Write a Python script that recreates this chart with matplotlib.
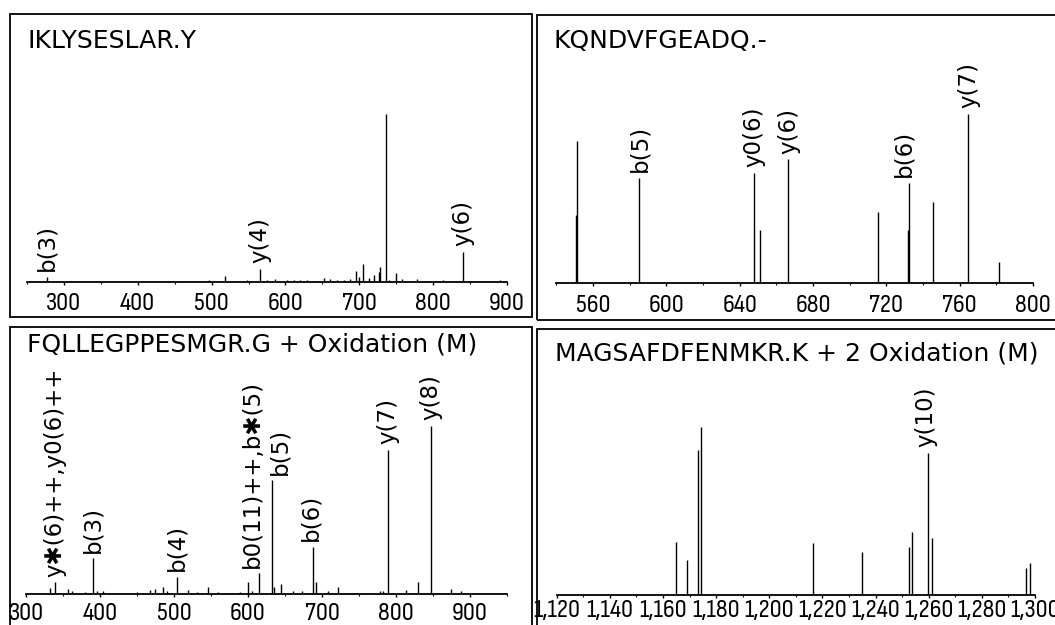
import matplotlib
matplotlib.use("Agg")
import matplotlib.pyplot as plt
from matplotlib.patches import Rectangle
from matplotlib.ticker import MultipleLocator, FuncFormatter
from matplotlib import font_manager
from matplotlib.font_manager import FontProperties
from matplotlib.textpath import TextPath

# ---------------- data ----------------
# Panel 1 (top-left)
p1_title = "IKLYSESLAR.Y"
p1_mz = [277.0, 496.4, 517.6, 548.2, 565.3, 575.2, 586.5, 602.3, 611.3, 620.3,
         629.3, 640.5, 651.8, 660.8, 669.8, 678.8, 687.8, 695.9, 699.1, 705.0,
         712.6, 719.4, 726.1, 728.4, 736.5, 739.6, 750.0, 757.7, 777.9, 789.2,
         800.4, 813.9, 840.1, 850.0, 890.5]
p1_int = [3.0, 1.0, 3.4, 1.0, 7.9, 1.0, 1.6, 1.2, 1.0, 1.0,
          1.2, 0.8, 2.4, 1.6, 1.0, 1.0, 1.6, 6.5, 3.0, 10.5,
          2.4, 4.0, 6.0, 8.9, 100.0, 1.0, 5.4, 1.6, 1.6, 0.8,
          0.8, 1.0, 17.9, 0.8, 1.0]
p1_lab_mz = [277.0, 565.3, 840.1]
p1_lab_txt = ["b(3)", "y(4)", "y(6)"]

# Panel 2 (top-right)
p2_title = "KQNDVFGEADQ.-"
p2_mz = [550.6, 551.1, 585.3, 648.0, 651.3, 666.6, 715.3, 731.6, 732.1, 745.2, 764.8, 781.6]
p2_int = [40.0, 84.0, 62.0, 65.0, 31.0, 73.0, 42.0, 31.0, 59.0, 48.0, 100.0, 12.0]
p2_lab_mz = [585.3, 648.0, 666.6, 732.1, 764.8]
p2_lab_txt = ["b(5)", "y0(6)", "y(6)", "b(6)", "y(7)"]

# Panel 3 (bottom-left)
p3_title = "FQLLEGPPESMGR.G + Oxidation (M)"
p3_mz = [332.4, 339.2, 357.2, 361.7, 379.7, 390.1, 395.5, 404.5, 449.5, 467.6,
         474.3, 485.6, 490.1, 503.6, 519.4, 530.6, 546.4, 559.9, 575.7, 589.2,
         600.5, 605.0, 615.3, 632.0, 635.1, 644.6, 661.2, 672.5, 688.3, 691.9,
         708.6, 722.1, 735.6, 778.4, 782.9, 789.6, 813.5, 829.3, 847.3, 874.3, 887.8]
p3_int = [3.5, 6.9, 3.0, 2.0, 1.0, 21.3, 1.6, 1.6, 1.0, 2.4,
          3.0, 3.9, 1.6, 10.4, 2.4, 1.0, 4.3, 1.2, 0.8, 1.2,
          6.9, 2.0, 12.4, 67.5, 3.9, 5.9, 1.6, 2.0, 28.1, 6.9,
          1.6, 4.3, 0.8, 1.6, 2.0, 85.6, 2.4, 6.9, 100.0, 3.0, 2.0]
p3_lab_mz = [339.2, 390.1, 503.6, 615.3, 632.0, 688.3, 789.6, 847.3]
p3_lab_txt = ["y\u2731(6)++,y0(6)++", "b(3)", "b(4)", "b0(11)++,b\u2731(5)",
              "b(5)", "b(6)", "y(7)", "y(8)"]

# Panel 4 (bottom-right)
p4_title = "MAGSAFDFENMKR.K + 2 Oxidation (M)"
p4_mz = [1164.9, 1168.9, 1173.1, 1174.2, 1216.6, 1234.8, 1252.7, 1253.6,
         1259.9, 1261.1, 1296.6, 1298.1]
p4_int = [31.5, 21.0, 86.0, 100.0, 31.0, 25.6, 28.6, 37.5,
          84.5, 34.0, 16.0, 19.0]
p4_lab_mz = [1259.9]
p4_lab_txt = ["y(10)"]

# ---------------- style / layout ----------------
W, H, DPI = 1055, 625, 100
fig = plt.figure(figsize=(W / DPI, H / DPI), dpi=DPI, facecolor="white")

# pick a condensed font for the tick numbers (tall, narrow digits)
avail = {f.name for f in font_manager.fontManager.ttflist}
candidates = ["Barlow Condensed", "Roboto Condensed", "Archivo Narrow", "PT Sans Narrow",
              "Fira Sans Condensed", "Encode Sans Condensed", "Asap Condensed",
              "Saira Condensed", "Sofia Sans Condensed", "IBM Plex Sans Condensed"]
TARGET_H = 18.0          # digit height in px
TARGET_RATIO = 32.0 / 18.0
best = None
for name in candidates:
    if name not in avail:
        continue
    try:
        prop = FontProperties(family=name, weight="light")
        ext = TextPath((0, 0), "300", size=100, prop=prop).get_extents()
        ratio = ext.width / ext.height
        score = abs(ratio - TARGET_RATIO)
        if best is None or score < best[0]:
            best = (score, name, ext.height)
    except Exception:
        continue
if best is None:
    tick_family, tick_weight, tick_size = "DejaVu Sans", "normal", 13
    digit_h_per_pt = 0.729 * DPI / 72
else:
    tick_family, tick_weight = best[1], "light"
    digit_h_per_pt = (best[2] / 100.0) * DPI / 72
    tick_size = TARGET_H / digit_h_per_pt

lab_family = ["DejaVu Sans"]


def fx(px):
    return px / W


def fy(py):
    return 1 - py / H


# panel frames (pixel boxes: left, top, right, bottom)
frames = [(10, 14, 532, 317), (537, 15, 1062, 320), (10, 327, 532, 632), (537, 329, 1062, 632)]
for (l, t, r, b) in frames:
    fig.add_artist(Rectangle((fx(l), fy(b)), fx(r - l), (b - t) / H,
                             transform=fig.transFigure, fill=False,
                             edgecolor="black", linewidth=1.3, clip_on=False))

# axes boxes: left, right, baseline, top (pixels)
axes_px = [(27, 507, 282, 60), (556.4, 1033, 282.5, 60), (26, 507, 594, 372), (556.7, 1035, 595, 373)]
xlims = [(250, 900), (540, 800), (300, 950), (1120, 1300)]
majors = [100, 40, 100, 20]
minors = [50, 20, 50, 10]
gap_px = [10.5, 12, 8.5, 5.5]   # axis line to top of digits
titles = [p1_title, p2_title, p3_title, p4_title]
title_pos = [(27, 47.5), (554, 48), (27, 351.5), (555, 360.5)]
mzs = [p1_mz, p2_mz, p3_mz, p4_mz]
ints = [p1_int, p2_int, p3_int, p4_int]
lab_mzs = [p1_lab_mz, p2_lab_mz, p3_lab_mz, p4_lab_mz]
lab_txts = [p1_lab_txt, p2_lab_txt, p3_lab_txt, p4_lab_txt]
# horizontal nudges (points) for crowded labels
lab_dx = [[0, 0, 0], [0, 0, 0, -3, 0], [0, 0, 0, -5, 6, -2, 0, 0], [-2]]

YTOP = 132.0
TICK_LEN_PT = 2.2

for i in range(4):
    l, r, base, top = axes_px[i]
    ax = fig.add_axes([fx(l), fy(base), fx(r - l), (base - top) / H])
    ax.set_facecolor("none")
    for s in ("left", "right", "top"):
        ax.spines[s].set_visible(False)
    ax.spines["bottom"].set_linewidth(1.3)
    ax.set_xlim(*xlims[i])
    ax.set_ylim(0, YTOP)
    ax.set_yticks([])
    ax.xaxis.set_major_locator(MultipleLocator(majors[i]))
    ax.xaxis.set_minor_locator(MultipleLocator(minors[i]))
    if i == 3:
        ax.xaxis.set_major_formatter(FuncFormatter(lambda v, p: f"{int(round(v)):,}"))
    pad_pt = max(gap_px[i] - TICK_LEN_PT * DPI / 72 - 1.0, 0.0) * 72 / DPI
    ax.tick_params(axis="x", which="major", direction="out", length=TICK_LEN_PT, width=1.0,
                   pad=pad_pt, labelsize=tick_size)
    ax.tick_params(axis="x", which="minor", direction="out", length=1.6, width=0.8)
    for lab in ax.get_xticklabels():
        lab.set_family(tick_family)
        lab.set_fontweight(tick_weight)

    ax.vlines(mzs[i], 0, ints[i], color="black", linewidth=1.0)

    for mz, txt, dx in zip(lab_mzs[i], lab_txts[i], lab_dx[i]):
        y = ints[i][mzs[i].index(mz)]
        ax.annotate(txt, xy=(mz, y), xytext=(dx, 4), textcoords="offset points",
                    rotation=90, ha="center", va="bottom", fontsize=16.5,
                    family=lab_family, annotation_clip=False)

    tx, ty = title_pos[i]
    fig.text(fx(tx), fy(ty), titles[i], ha="left", va="baseline",
             fontsize=18, family="DejaVu Sans", color="black")

fig.savefig("out.png", dpi=DPI, facecolor="white")
